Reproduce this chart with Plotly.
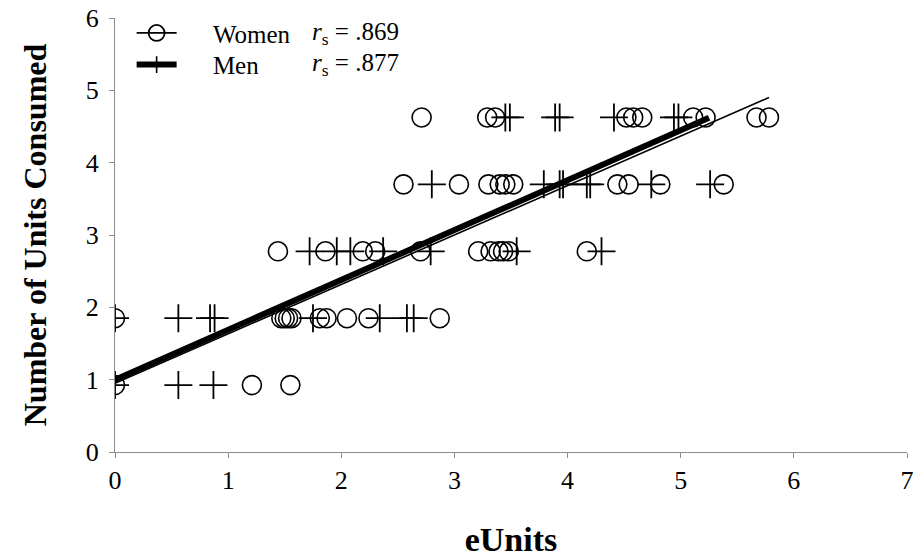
import plotly.graph_objects as go

# Row levels (Number of Units Consumed)
row_levels = [0.925, 1.85, 2.775, 3.70, 4.625]

# eUnits values for women, per row level
women_rows = [
    [0.0, 1.21, 1.55],
    [0.0, 1.47, 1.50, 1.53, 1.56, 1.81, 1.87, 2.05, 2.24, 2.87],
    [1.44, 1.86, 2.19, 2.30, 2.70, 3.21, 3.32, 3.39, 3.43, 3.48, 4.17],
    [2.55, 3.04, 3.30, 3.40, 3.45, 3.52, 4.44, 4.54, 4.82, 5.38],
    [2.71, 3.29, 3.36, 4.52, 4.58, 4.66, 5.11, 5.22, 5.67, 5.78],
]
# eUnits values for men, per row level
men_rows = [
    [0.0, 0.56, 0.87],
    [0.0, 0.56, 0.84, 0.88, 1.75, 2.34, 2.58, 2.64],
    [1.72, 1.96, 2.08, 2.37, 2.79, 3.55, 4.30],
    [2.80, 3.79, 3.93, 3.96, 4.17, 4.20, 4.74, 5.26],
    [3.45, 3.49, 3.89, 3.93, 4.41, 4.94, 4.98],
]

# Regression (trend) lines
women_fit_x = [0.0, 5.78]
women_fit_y = [0.95, 4.90]
men_fit_x = [0.0, 5.25]
men_fit_y = [1.00, 4.62]

women_label = "Women"
men_label = "Men"
women_rs = ".869"
men_rs = ".877"

x_ticks = [0, 1, 2, 3, 4, 5, 6, 7]
y_ticks = [0, 1, 2, 3, 4, 5, 6]

women_x, women_y, men_x, men_y = [], [], [], []
for lvl, xs in zip(row_levels, women_rows):
    women_x += xs
    women_y += [lvl] * len(xs)
for lvl, xs in zip(row_levels, men_rows):
    men_x += xs
    men_y += [lvl] * len(xs)

FONT = "Liberation Serif"
PAD = "\u00a0" * 5
fig = go.Figure()

fig.add_trace(go.Scatter(
    x=women_x, y=women_y, mode="markers", showlegend=False,
    marker=dict(symbol="circle-open", size=19, color="black", line=dict(width=1.6, color="black")),
))
fig.add_trace(go.Scatter(
    x=men_x, y=men_y, mode="markers", showlegend=False,
    marker=dict(symbol="cross-thin-open", size=20, color="black", line=dict(width=1.8, color="black")),
))
fig.add_trace(go.Scatter(
    x=men_fit_x, y=men_fit_y, mode="lines", showlegend=False,
    line=dict(color="black", width=6),
))
fig.add_trace(go.Scatter(
    x=women_fit_x, y=women_fit_y, mode="lines", showlegend=False,
    line=dict(color="black", width=1.6),
))
# Legend entries (two legends, to control row spacing)
fig.add_trace(go.Scatter(
    x=[None], y=[None], mode="lines+markers", name=PAD + women_label, legend="legend",
    line=dict(color="black", width=1.8),
    marker=dict(symbol="circle-open", size=22, color="black", line=dict(width=1.8, color="black")),
))
fig.add_trace(go.Scatter(
    x=[None], y=[None], mode="lines+markers", name=PAD + men_label, legend="legend2",
    line=dict(color="black", width=6),
    marker=dict(symbol="line-ns", size=12, color="black", line=dict(width=1.6, color="black")),
))

axis_common = dict(
    showgrid=False, zeroline=False, showline=True, linecolor="#8c8c8c", linewidth=1.2,
    ticks="outside", tickcolor="#8c8c8c", ticklen=5, tickwidth=1.2, automargin=False,
    ticklabeloverflow="allow",
    tickfont=dict(family=FONT, size=26, color="black"),
)
fig.update_xaxes(range=[0, 7], tickvals=x_ticks, **axis_common,
                 title=dict(text="<b>eUnits</b>", font=dict(family=FONT, size=34, color="black"), standoff=32))
fig.update_yaxes(range=[0, 6], tickvals=y_ticks, **axis_common, ticklabelstandoff=5,
                 title=dict(text="<b>Number of Units Consumed</b>", font=dict(family=FONT, size=32, color="black"), standoff=29))

fig.add_annotation(x=0.246, y=0.965, xref="paper", yref="paper", xanchor="left", yanchor="middle",
                   showarrow=False, text="<i>r</i><sub>s</sub> = " + women_rs,
                   font=dict(family=FONT, size=25, color="black"))
fig.add_annotation(x=0.246, y=0.892, xref="paper", yref="paper", xanchor="left", yanchor="middle",
                   showarrow=False, text="<i>r</i><sub>s</sub> = " + men_rs,
                   font=dict(family=FONT, size=25, color="black"))

legend_common = dict(xanchor="left", yanchor="middle", bgcolor="rgba(0,0,0,0)",
                     font=dict(family=FONT, size=25, color="black"), itemwidth=40)
fig.update_layout(
    width=918, height=560,
    margin=dict(l=115, r=11, t=18, b=108, autoexpand=False),
    paper_bgcolor="white", plot_bgcolor="white",
    font=dict(family=FONT, color="black"),
    legend=dict(x=0.021, y=0.965, **legend_common),
    legend2=dict(x=0.021, y=0.892, **legend_common),
)

# Remove the page's default body margin so the figure fills the window exactly.
fig.write_html("out.html", config={"displayModeBar": False},
               post_script="document.body.style.margin='0';")
